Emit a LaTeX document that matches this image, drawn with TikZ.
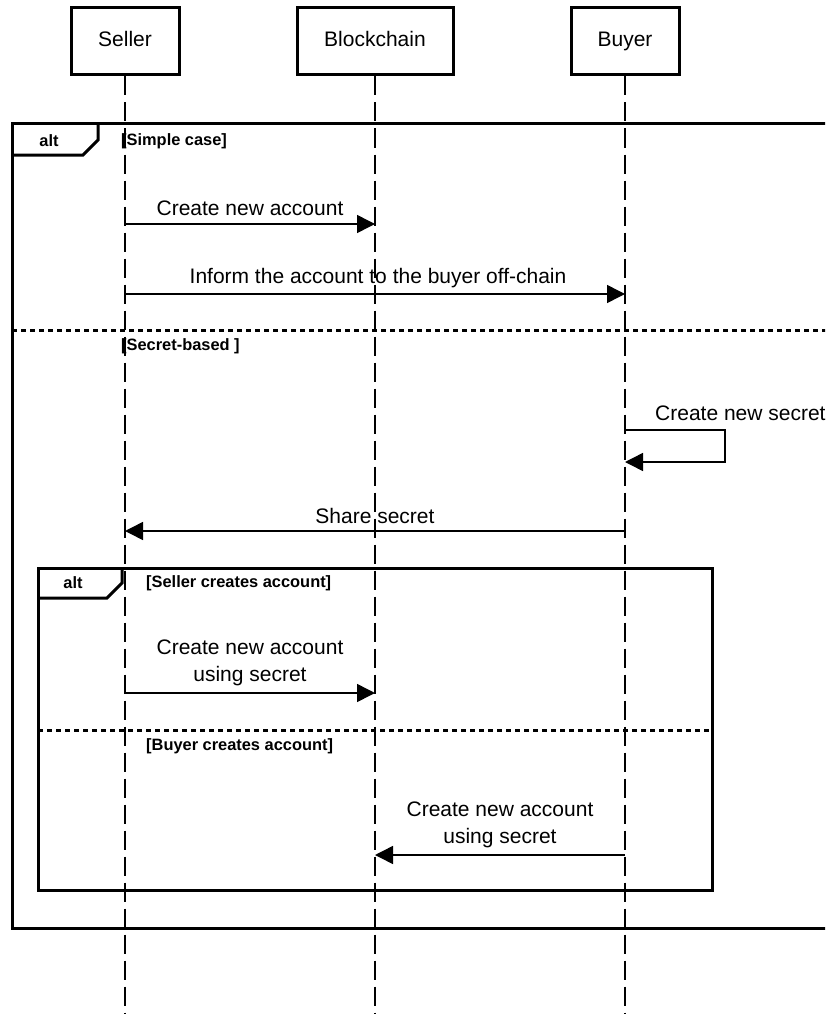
\documentclass[tikz,border=0pt]{standalone}
\usepackage{fontspec}
\setmainfont{Liberation Sans}
\usetikzlibrary{arrows.meta}
\begin{document}
\begin{tikzpicture}[x=1pt,y=-1pt,
 actor/.style={draw,line width=3pt,minimum width=108pt,minimum height=67pt,font=\fontsize{21}{25}\selectfont,inner sep=0pt,text height=15pt,text depth=4pt},
 life/.style={line width=1.5pt,dash pattern=on 19pt off 7pt},
 frame/.style={line width=3pt},
 sep/.style={line width=3pt,dash pattern=on 5pt off 4pt},
 msg/.style={line width=1.5pt,-{Triangle[length=18pt,width=18pt]}},
 lbl/.style={font=\fontsize{21}{27}\selectfont,align=center,inner sep=0pt},
 guard/.style={font=\bfseries\fontsize{16.4}{20}\selectfont,anchor=west,inner sep=0pt},
 ]
\useasboundingbox (0,0) rectangle (825,1014);
\clip (0,0) rectangle (825,1014);
\fill[white] (0,0) rectangle (825,1014);

% actors
\node[actor] (seller) at (125,41.5) {Seller};
\node[actor,minimum width=156pt] (chain) at (375,41.5) {Blockchain};
\node[actor] (buyer) at (625,41.5) {Buyer};

% lifelines
\coordinate (sellerEnd) at (125,1020);
\coordinate (chainEnd) at (375,1020);
\coordinate (buyerEnd) at (625,1020);
\draw[life] (seller.south) -- (sellerEnd);
\draw[life] (chain.south) -- (chainEnd);
\draw[life] (buyer.south) -- (buyerEnd);

% outer alt frame
\draw[frame] (840,124) -- (12,124) -- (12,928) -- (840,928);
\draw[frame] (12,155) -- (83,155) -- (98,140) -- (98,124);
\node[guard,anchor=center] (alt1) at (49,141) {alt};
\node[guard] (g1) at (121,141) {[Simple case]};
\draw[sep] (12,330) -- (840,330);
\node[guard] (g2) at (121,346) {[Secret-based ]};

% simple case
\coordinate (m1a) at (125,224); \coordinate (m1b) at (375,224);
\draw[msg] (m1a) -- (m1b);
\node[lbl] (t1) at (250,208) {Create new account};

\coordinate (m2a) at (125,294); \coordinate (m2b) at (625,294);
\draw[msg] (m2a) -- (m2b);
\node[lbl] (t2) at (378,278) {Inform the account to the buyer off-chain};

% secret-based
\coordinate (s1) at (625,430); \coordinate (s2) at (725,430);
\coordinate (s3) at (725,462); \coordinate (s4) at (625,462);
\draw[msg] (s1) -- (s2) -- (s3) -- (s4);
\node[lbl,anchor=west] (t3) at (655,413) {Create new secret};

\coordinate (m3a) at (625,531); \coordinate (m3b) at (125,531);
\draw[msg] (m3a) -- (m3b);
\node[lbl] (t4) at (375,516) {Share secret};

% inner alt frame
\draw[frame] (38,568) rectangle (712,890);
\draw[frame] (38,598) -- (107,598) -- (122,583) -- (122,568);
\node[guard,anchor=center] (alt2) at (73,583) {alt};
\node[guard] (g3) at (146,583) {[Seller creates account]};
\draw[sep] (38,730) -- (712,730);
\node[guard] (g4) at (146,746) {[Buyer creates account]};

\coordinate (m4a) at (125,693); \coordinate (m4b) at (375,693);
\draw[msg] (m4a) -- (m4b);
\node[lbl] (t5) at (250,663) {Create new account\\using secret};

\coordinate (m5a) at (625,855); \coordinate (m5b) at (375,855);
\draw[msg] (m5a) -- (m5b);
\node[lbl] (t6) at (500,825) {Create new account\\using secret};
\end{tikzpicture}
\end{document}
